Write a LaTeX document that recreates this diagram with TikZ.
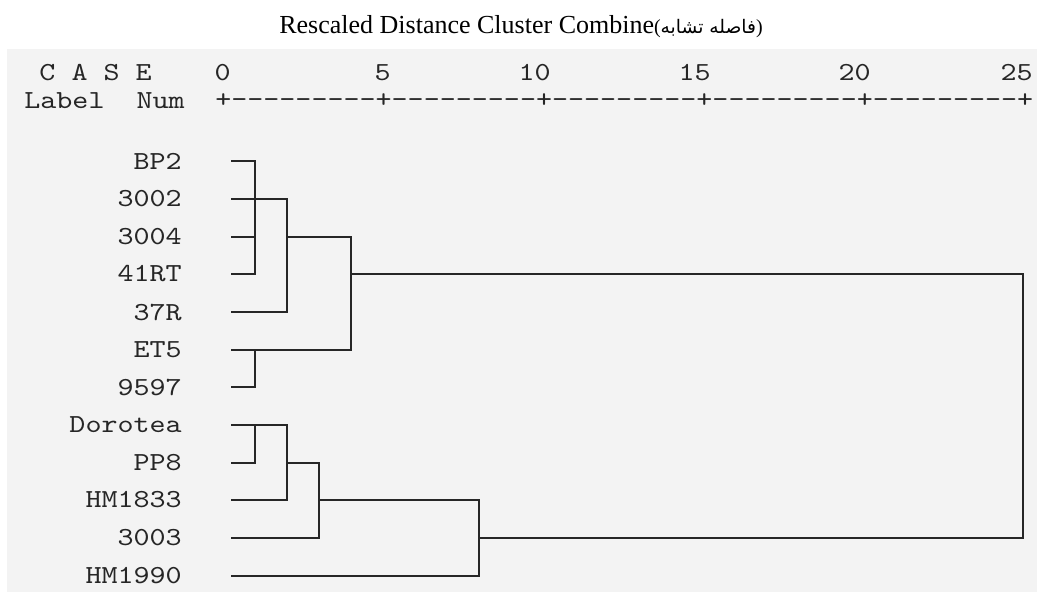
\documentclass[tikz,border=0pt]{standalone}
\usepackage{fontspec}
\setmainfont{Liberation Serif}
\newfontfamily\monofnt{lmmono10-regular.otf}[FakeStretch=1.175, Ligatures=TeXOff]
\newfontfamily\arabicfont[Script=Arabic]{DejaVu Sans}
\TeXXeTstate=1
\definecolor{paper}{HTML}{F3F3F3}
\definecolor{ink}{HTML}{262626}
\tikzset{
  lab/.style={font=\monofnt\fontsize{19.5pt}{24pt}\selectfont, inner sep=0pt, text=ink, anchor=east},
  axisrow/.style={font=\monofnt\fontsize{19.5pt}{24pt}\selectfont, inner sep=0pt, text=ink, anchor=west},
  dend/.style={draw=ink, line width=1.5pt, line cap=rect, line join=miter},
  titlefont/.style={font=\fontsize{19.5pt}{24pt}\selectfont, inner sep=0pt, text=black, anchor=base}
}
\begin{document}
\begin{tikzpicture}[x=0.75pt, y=-0.75pt]
\useasboundingbox (0,0) rectangle (1037,592);
\fill[white] (0,0) rectangle (1037,592);
\fill[paper] (7,49) rectangle (1037,592);

% title
\node[titlefont] (title) at (521,34) {Rescaled Distance Cluster Combine{\fontsize{15pt}{16pt}\selectfont(}{\arabicfont\fontsize{14pt}{16pt}\selectfont\beginR فاصله تشابه\endR}{\fontsize{15pt}{16pt}\selectfont)}};

% header
\node[lab] (case) at (152,73) {C A S E};
\node[lab] (labnum) at (185,101) {Label\ \ Num};
\node[lab] (t0)  at (231,73) {0};
\node[lab] (t5)  at (391,73) {5};
\node[lab] (t10) at (551,73) {10};
\node[lab] (t15) at (711,73) {15};
\node[lab] (t20) at (871,73) {20};
\node[lab] (t25) at (1033,73) {25};
\node[axisrow] (axis) at (215,101) {+---------+---------+---------+---------+---------+};

% leaf labels
\foreach \i/\t/\y in {1/BP2/161,2/3002/199,3/3004/237,4/41RT/274,5/37R/312,6/ET5/350,7/9597/387,8/Dorotea/425,9/PP8/463,10/HM1833/500,11/3003/538,12/HM1990/576}{
  \node[lab] (l\i) at (182,\y) {\t};
  \coordinate (s\i) at (232,\y);
}

% merge columns (distance scale: 0 at 223, 32 px per unit)
\coordinate (d1) at (255,0);
\coordinate (d2) at (287,0);
\coordinate (d3) at (319,0);
\coordinate (d4) at (351,0);
\coordinate (d8) at (479,0);
\coordinate (d25) at (1023,0);

% upper group
\draw[dend] (s1) -- (s1 -| d1) -- (s4 -| d1) -- (s4);
\draw[dend] (s3) -- (s3 -| d1);
\draw[dend] (s2) -- (s2 -| d2) -- (s5 -| d2) -- (s5);
\draw[dend] (s3 -| d2) -- (s3 -| d4);
\draw[dend] (s6) -- (s6 -| d4) -- (s3 -| d4);
\draw[dend] (s6 -| d1) -- (s7 -| d1) -- (s7);
% lower group
\draw[dend] (s8) -- (s8 -| d2) -- (s10 -| d2) -- (s10);
\draw[dend] (s8 -| d1) -- (s9 -| d1) -- (s9);
\draw[dend] (s9 -| d2) -- (s9 -| d3) -- (s11 -| d3) -- (s11);
\draw[dend] (s10 -| d3) -- (s10 -| d8) -- (s12 -| d8) -- (s12);
% final join
\draw[dend] (s4 -| d4) -- (s4 -| d25) -- (s11 -| d25) -- (s11 -| d8);
\end{tikzpicture}
\end{document}
